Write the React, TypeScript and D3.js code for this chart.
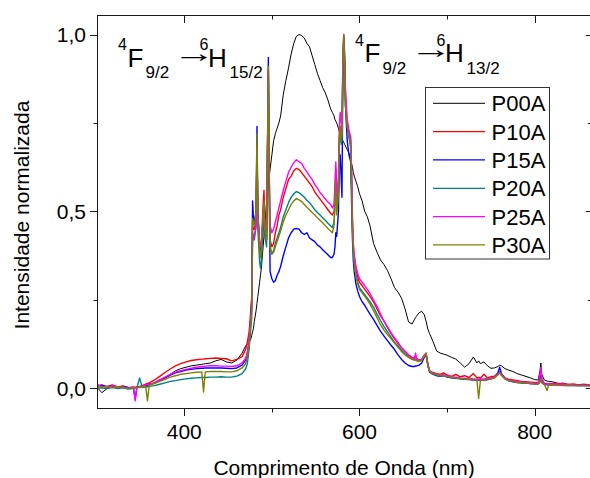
import React from "react";
import * as d3 from "d3";

// Emission spectra (normalized intensity) on a shared wavelength grid, nm
const wavelength = [
  300, 306, 312, 318, 324, 330, 336, 342, 344, 346, 349, 352, 356, 358, 360, 366, 372, 378, 384, 390, 396, 402, 408, 414, 420, 422, 424, 430, 436, 442, 448, 454, 460, 466,
  470, 472, 474, 476, 477, 478, 479, 480, 482, 483, 484, 486, 487, 488, 490, 491, 492, 494, 496, 497, 498,
  500, 502, 504, 506, 508, 510, 513, 516, 519, 522, 525, 528, 531, 534, 537, 540, 543, 546, 549, 552, 555, 558, 561, 564, 567,
  569, 571, 572, 573, 574, 576, 577, 578, 579, 580, 581, 582, 583, 584, 586, 588, 590, 591, 592, 593, 594, 596, 598,
  600, 603, 606, 609, 612, 616, 620, 624, 628, 632, 636, 640, 644, 648, 652, 656, 660, 663, 664, 665, 668, 671, 674, 676, 678, 680, 684, 688, 692, 696,
  700, 705, 710, 715, 720, 725, 730, 734, 736, 738, 742, 746, 750, 754, 758, 760, 762, 766, 770, 775, 780, 785, 790, 795, 800, 804, 806, 807, 808, 811, 814, 816, 820, 826, 832, 838, 844, 850, 856, 862, 866,
];

const p00a = [
  0.005, -0.012, 0, 0.004, 0.002, 0.006, 0.001, 0.003, 0.002, 0.004, 0.003, 0.005, 0.008, 0.009, 0.01, 0.015, 0.022, 0.03, 0.04, 0.05, 0.056, 0.06, 0.064, 0.066, 0.068, 0.069, 0.07, 0.072, 0.078, 0.082, 0.075, 0.072, 0.08, 0.1,
  0.12, 0.125, 0.13, 0.14, 0.15, 0.16, 0.17, 0.19, 0.22, 0.24, 0.26, 0.3, 0.32, 0.34, 0.4, 0.43, 0.46, 0.53, 0.58, 0.6, 0.62,
  0.66, 0.7, 0.72, 0.735, 0.75, 0.77, 0.83, 0.87, 0.905, 0.945, 0.975, 0.995, 1.0, 0.997, 0.99, 0.975, 0.965, 0.94, 0.915, 0.89, 0.87, 0.85, 0.835, 0.815, 0.79,
  0.78, 0.77, 0.76, 0.755, 0.75, 0.735, 0.725, 0.715, 0.71, 0.705, 0.7, 0.695, 0.69, 0.685, 0.675, 0.665, 0.645, 0.635, 0.625, 0.61, 0.6, 0.585, 0.57,
  0.55, 0.53, 0.5, 0.485, 0.46, 0.41, 0.385, 0.363, 0.35, 0.333, 0.31, 0.285, 0.272, 0.255, 0.225, 0.188, 0.182, 0.196, 0.2, 0.204, 0.214, 0.218, 0.208, 0.19, 0.168, 0.155, 0.132, 0.106, 0.1, 0.097,
  0.094, 0.088, 0.083, 0.072, 0.06, 0.07, 0.089, 0.072, 0.078, 0.07, 0.075, 0.064, 0.057, 0.058, 0.062, 0.066, 0.064, 0.056, 0.052, 0.048, 0.042, 0.038, 0.034, 0.03, 0.025, 0.024, 0.05, 0.072, 0.04, 0.024, 0.021, 0.02, 0.019, 0.015, 0.013, 0.012, 0.011, 0.01, 0.011, 0.009, 0.01,
];

const p10a = [
  0.01, 0.008, 0.006, 0.01, 0.004, 0.007, 0.002, 0.004, 0.003, 0.005, 0.006, 0.008, 0.012, 0.014, 0.016, 0.024, 0.034, 0.045, 0.055, 0.064, 0.07, 0.075, 0.079, 0.081, 0.083, 0.083, 0.084, 0.085, 0.086, 0.085, 0.084, 0.078, 0.082, 0.09,
  0.11, 0.13, 0.16, 0.22, 0.26, 0.46, 0.45, 0.45, 0.48, 0.68, 0.5, 0.4, 0.38, 0.4, 0.52, 0.56, 0.47, 0.43, 0.9, 0.6, 0.42,
  0.4, 0.41, 0.44, 0.46, 0.49, 0.505, 0.54, 0.565, 0.59, 0.6, 0.615, 0.622, 0.618, 0.61, 0.6, 0.59, 0.58, 0.57, 0.555, 0.545, 0.535, 0.525, 0.515, 0.505, 0.495,
  0.49, 0.5, 0.55, 0.62, 0.52, 0.56, 0.7, 0.74, 0.7, 0.72, 0.9, 0.99, 0.92, 0.82, 0.74, 0.72, 0.7, 0.6, 0.47, 0.4, 0.37, 0.335, 0.315,
  0.3, 0.29, 0.28, 0.27, 0.26, 0.245, 0.225, 0.205, 0.19, 0.172, 0.155, 0.14, 0.127, 0.115, 0.105, 0.095, 0.088, 0.086, 0.095, 0.085, 0.08, 0.082, 0.094, 0.1, 0.07, 0.05, 0.045, 0.042, 0.04, 0.044,
  0.038, 0.034, 0.04, 0.033, 0.036, 0.031, 0.042, 0.03, 0.031, 0.029, 0.04, 0.03, 0.033, 0.035, 0.042, 0.048, 0.04, 0.03, 0.026, 0.024, 0.022, 0.02, 0.019, 0.018, 0.017, 0.016, 0.03, 0.045, 0.025, 0.014, 0.013, 0.013, 0.014, 0.012, 0.015, 0.011, 0.013, 0.01, 0.012, 0.01, 0.011,
];

const p15a = [
  0.005, 0.01, 0.004, 0.008, 0.003, 0.006, 0.003, 0.002, -0.03, 0.004, 0.005, 0.006, 0.008, 0.01, 0.012, 0.016, 0.024, 0.03, 0.038, 0.044, 0.048, 0.052, 0.054, 0.056, 0.057, 0.057, 0.058, 0.058, 0.058, 0.058, 0.057, 0.056, 0.058, 0.066,
  0.08, 0.1, 0.13, 0.2, 0.25, 0.53, 0.48, 0.47, 0.5, 0.74, 0.5, 0.4, 0.38, 0.4, 0.45, 0.48, 0.44, 0.42, 0.935, 0.55, 0.33,
  0.31, 0.3, 0.305, 0.32, 0.33, 0.345, 0.375, 0.4, 0.425, 0.44, 0.45, 0.452, 0.45, 0.44, 0.435, 0.44, 0.425, 0.42, 0.415, 0.405, 0.4, 0.392, 0.385, 0.378, 0.37,
  0.37, 0.38, 0.4, 0.44, 0.43, 0.5, 0.64, 0.66, 0.6, 0.54, 0.88, 1.0, 0.95, 0.8, 0.7, 0.66, 0.64, 0.52, 0.42, 0.36, 0.33, 0.295, 0.275,
  0.26, 0.245, 0.235, 0.222, 0.21, 0.195, 0.178, 0.162, 0.148, 0.135, 0.122, 0.11, 0.095, 0.082, 0.072, 0.065, 0.062, 0.062, 0.064, 0.063, 0.066, 0.072, 0.088, 0.096, 0.065, 0.046, 0.04, 0.036, 0.034, 0.036,
  0.032, 0.03, 0.029, 0.027, 0.026, 0.025, 0.024, 0.024, 0.024, 0.023, 0.024, 0.025, 0.027, 0.03, 0.045, 0.06, 0.042, 0.028, 0.022, 0.019, 0.017, 0.016, 0.015, 0.014, 0.013, 0.013, 0.025, 0.035, 0.02, 0.012, 0.011, 0.011, 0.01, 0.01, 0.009, 0.009, 0.009, 0.008, 0.009, 0.008, 0.009,
];

const p20a = [
  0, 0.002, 0, 0.003, 0, 0.002, -0.002, 0, 0.001, 0.002, 0.03, 0.003, 0.004, 0.005, 0.006, 0.008, 0.012, 0.016, 0.02, 0.022, 0.025, 0.027, 0.029, 0.03, 0.031, 0.031, 0.031, 0.032, 0.032, 0.033, 0.032, 0.032, 0.035, 0.042,
  0.055, 0.07, 0.11, 0.17, 0.2, 0.44, 0.43, 0.42, 0.46, 0.69, 0.45, 0.36, 0.34, 0.36, 0.46, 0.5, 0.43, 0.4, 0.88, 0.57, 0.4,
  0.38, 0.39, 0.41, 0.425, 0.44, 0.455, 0.485, 0.505, 0.525, 0.54, 0.55, 0.556, 0.553, 0.547, 0.54, 0.532, 0.525, 0.515, 0.505, 0.497, 0.49, 0.482, 0.475, 0.467, 0.46,
  0.455, 0.47, 0.52, 0.6, 0.5, 0.55, 0.7, 0.73, 0.69, 0.7, 0.9, 0.99, 0.92, 0.8, 0.74, 0.71, 0.68, 0.58, 0.45, 0.39, 0.36, 0.32, 0.3,
  0.285, 0.275, 0.265, 0.255, 0.245, 0.23, 0.21, 0.192, 0.175, 0.16, 0.145, 0.13, 0.12, 0.108, 0.098, 0.09, 0.083, 0.08, 0.082, 0.079, 0.078, 0.08, 0.09, 0.097, 0.066, 0.047, 0.041, 0.038, 0.036, 0.037,
  0.034, 0.031, 0.03, 0.028, 0.027, 0.026, 0.025, 0.025, 0.024, 0.024, 0.024, 0.025, 0.027, 0.03, 0.04, 0.046, 0.038, 0.028, 0.022, 0.02, 0.018, 0.016, 0.015, 0.014, 0.013, 0.013, 0.02, 0.03, 0.018, 0.011, 0.01, 0.01, 0.01, 0.009, 0.009, 0.008, 0.009, 0.008, 0.008, 0.008, 0.008,
];

const p25a = [
  0.01, 0.006, 0.003, 0.008, 0.005, 0.004, 0.001, 0.004, -0.035, 0.005, 0.004, 0.006, 0.01, 0.011, 0.012, 0.016, 0.024, 0.032, 0.04, 0.046, 0.05, 0.054, 0.057, 0.06, 0.062, 0.062, 0.063, 0.064, 0.064, 0.063, 0.063, 0.062, 0.064, 0.072,
  0.085, 0.1, 0.14, 0.2, 0.23, 0.42, 0.42, 0.43, 0.46, 0.68, 0.48, 0.42, 0.4, 0.41, 0.48, 0.52, 0.46, 0.44, 0.9, 0.62, 0.46,
  0.44, 0.45, 0.47, 0.49, 0.51, 0.53, 0.56, 0.585, 0.61, 0.625, 0.638, 0.646, 0.64, 0.636, 0.622, 0.612, 0.6, 0.59, 0.576, 0.566, 0.553, 0.545, 0.535, 0.527, 0.52,
  0.51, 0.52, 0.58, 0.64, 0.54, 0.6, 0.74, 0.78, 0.76, 0.72, 0.92, 0.99, 0.9, 0.85, 0.76, 0.73, 0.71, 0.62, 0.48, 0.41, 0.38, 0.345, 0.325,
  0.31, 0.3, 0.29, 0.28, 0.268, 0.25, 0.232, 0.21, 0.19, 0.174, 0.158, 0.143, 0.13, 0.115, 0.104, 0.094, 0.086, 0.084, 0.1, 0.083, 0.08, 0.082, 0.094, 0.099, 0.068, 0.049, 0.043, 0.04, 0.038, 0.039,
  0.036, 0.033, 0.032, 0.03, 0.029, 0.028, 0.027, 0.026, 0.027, 0.026, 0.027, 0.028, 0.029, 0.032, 0.04, 0.046, 0.039, 0.029, 0.024, 0.021, 0.019, 0.018, 0.017, 0.016, 0.015, 0.015, 0.04, 0.06, 0.03, 0.013, 0.012, 0.012, 0.012, 0.011, 0.012, 0.01, 0.011, 0.009, 0.01, 0.009, 0.01,
];

const p30a = [
  0.005, 0.004, 0.006, 0.002, 0.004, 0.003, 0, 0.002, 0.001, 0.003, 0.004, 0.005, 0.006, -0.035, 0.009, 0.014, 0.02, 0.026, 0.032, 0.036, 0.04, 0.042, 0.044, 0.046, 0.047, -0.01, 0.047, 0.048, 0.048, 0.048, 0.047, 0.047, 0.05, 0.058,
  0.07, 0.085, 0.12, 0.19, 0.22, 0.48, 0.47, 0.46, 0.5, 0.72, 0.48, 0.39, 0.37, 0.39, 0.49, 0.53, 0.45, 0.42, 0.91, 0.6, 0.4,
  0.38, 0.385, 0.4, 0.415, 0.43, 0.445, 0.47, 0.49, 0.505, 0.52, 0.53, 0.537, 0.533, 0.528, 0.52, 0.512, 0.505, 0.497, 0.49, 0.482, 0.475, 0.468, 0.46, 0.452, 0.445,
  0.44, 0.46, 0.52, 0.59, 0.49, 0.55, 0.71, 0.74, 0.7, 0.72, 0.92, 1.0, 0.93, 0.8, 0.74, 0.71, 0.69, 0.58, 0.45, 0.39, 0.355, 0.315, 0.295,
  0.28, 0.27, 0.26, 0.25, 0.238, 0.22, 0.2, 0.18, 0.165, 0.152, 0.14, 0.128, 0.116, 0.104, 0.095, 0.088, 0.082, 0.08, 0.083, 0.079, 0.077, 0.079, 0.092, 0.098, 0.068, 0.048, 0.042, 0.039, 0.036, 0.037,
  0.034, 0.031, 0.03, 0.028, 0.027, 0.026, 0.025, 0.024, -0.028, 0.023, 0.024, 0.025, 0.027, 0.03, 0.038, 0.044, 0.037, 0.027, 0.022, 0.02, 0.017, 0.016, 0.015, 0.014, 0.013, 0.012, 0.018, 0.028, 0.016, 0.011, -0.006, 0.01, 0.009, 0.009, 0.008, 0.009, 0.008, 0.008, 0.008, 0.007, 0.008,
];

const seriesNames = ["P00A", "P10A", "P15A", "P20A", "P25A", "P30A"];
const seriesColors = ["#000000", "#ff0000", "#0000ff", "#008080", "#ff00ff", "#808000"];
const seriesValues = [p00a, p10a, p15a, p20a, p25a, p30a];

const xMajorTicks = [400, 600, 800];
const xMinorTicks = [500, 700];
const yMajorTicks = [0, 0.5, 1];
const yMinorTicks = [0.25, 0.75];
const yTickLabels = ["0,0", "0,5", "1,0"];

// Transition labels: 4F9/2 -> 6H15/2 and 4F9/2 -> 6H13/2
const transitionUpper = ["15/2", "13/2"];

const FONT = "'Liberation Sans', Arial, Helvetica, sans-serif";

function Transition({ x0, base, upper }: { x0: number; base: number; upper: string }) {
  // x0: left of the leading superscript, base: baseline of the large letters
  return (
    <g fill="#000">
      <text>
        <tspan x={x0} y={base - 16.7} fontSize={16}>4</tspan>
        <tspan x={x0 + 9.5} y={base} fontSize={26}>F</tspan>
        <tspan x={x0 + 27.5} y={base + 11.6} fontSize={17}>9/2</tspan>
      </text>
      {/* long thin arrow: the glyph stretched horizontally */}
      <text transform={`translate(${x0 + 55}, ${base - 4.7}) scale(1.65, 1)`} fontSize={26}>
        →
      </text>
      <text>
        <tspan x={x0 + 81.5} y={base - 16.7} fontSize={16}>6</tspan>
        <tspan x={x0 + 90} y={base} fontSize={26}>H</tspan>
        <tspan x={x0 + 111.5} y={base + 11.6} fontSize={17}>{upper}</tspan>
      </text>
    </g>
  );
}

export default function App() {
  const W = 590;
  const H = 478;
  const left = 97.5;
  const right = 590.8;
  const top = 15.5;
  const bottom = 408.5;

  const x = d3.scaleLinear().domain([301, 864]).range([left, right]);
  const y = d3.scaleLinear().domain([-0.0566, 1.0537]).range([bottom, top]);

  const line = d3
    .line<number>()
    .x((_, i) => x(wavelength[i]))
    .y((d) => y(d));

  const major = 7.5;
  const minor = 4;
  const axisColor = "#1a1a1a";

  const legendX = 425.5;
  const legendY = 87.5;
  const legendW = 124;
  const legendH = 171.5;
  const rowStep = 28.33;

  return (
    <svg
      width={W}
      height={H}
      style={{ position: "absolute", left: 0, top: 0, background: "#fff" }}
      fontFamily={FONT}
    >
      <defs>
        <clipPath id="plot-clip">
          <rect x={left} y={top} width={right - left} height={bottom - top} />
        </clipPath>
      </defs>

      <g clipPath="url(#plot-clip)">
        {seriesValues.map((vals, k) => (
          <path
            key={seriesNames[k]}
            d={line(vals) || ""}
            fill="none"
            stroke={seriesColors[k]}
            strokeWidth={k === 0 ? 1 : 1.4}
            strokeLinejoin="round"
          />
        ))}
      </g>

      {/* frame */}
      <rect x={left} y={top} width={right - left} height={bottom - top} fill="none" stroke={axisColor} strokeWidth={1} />

      {/* x ticks: bottom outward, top inward */}
      {xMajorTicks.map((t) => (
        <g key={"xM" + t}>
          <line x1={Math.round(x(t)) + 0.5} x2={Math.round(x(t)) + 0.5} y1={bottom} y2={bottom + major} stroke={axisColor} />
          <line x1={Math.round(x(t)) + 0.5} x2={Math.round(x(t)) + 0.5} y1={top} y2={top + major} stroke={axisColor} />
          <text x={x(t)} y={439} textAnchor="middle" fontSize={21} fill="#000">
            {t}
          </text>
        </g>
      ))}
      {xMinorTicks.map((t) => (
        <g key={"xm" + t}>
          <line x1={Math.round(x(t)) + 0.5} x2={Math.round(x(t)) + 0.5} y1={bottom} y2={bottom + minor} stroke={axisColor} />
          <line x1={Math.round(x(t)) + 0.5} x2={Math.round(x(t)) + 0.5} y1={top} y2={top + minor} stroke={axisColor} />
        </g>
      ))}

      {/* y ticks: left outward, right inward */}
      {yMajorTicks.map((t, i) => (
        <g key={"yM" + t}>
          <line x1={left - major} x2={left} y1={Math.round(y(t)) + 0.5} y2={Math.round(y(t)) + 0.5} stroke={axisColor} />
          <line x1={right - 5} x2={right} y1={Math.round(y(t)) + 0.5} y2={Math.round(y(t)) + 0.5} stroke={axisColor} />
          <text x={86} y={y(t) + 7.5} textAnchor="end" fontSize={21} fill="#000">
            {yTickLabels[i]}
          </text>
        </g>
      ))}
      {yMinorTicks.map((t) => (
        <g key={"ym" + t}>
          <line x1={left - minor} x2={left} y1={Math.round(y(t)) + 0.5} y2={Math.round(y(t)) + 0.5} stroke={axisColor} />
          <line x1={right - 3} x2={right} y1={Math.round(y(t)) + 0.5} y2={Math.round(y(t)) + 0.5} stroke={axisColor} />
        </g>
      ))}

      {/* axis titles */}
      <text x={(left + right) / 2} y={475} textAnchor="middle" fontSize={21} fill="#000">
        Comprimento de Onda (nm)
      </text>
      <text transform={`translate(28.5, 215) rotate(-90)`} textAnchor="middle" fontSize={21} fill="#000">
        Intensidade normalizada
      </text>

      {/* transition labels */}
      <Transition x0={118} base={66.7} upper={transitionUpper[0]} />
      <Transition x0={355} base={62.3} upper={transitionUpper[1]} />

      {/* legend */}
      <rect x={legendX} y={legendY} width={legendW} height={legendH} fill="#fff" stroke="#333" strokeWidth={1} />
      {seriesNames.map((name, k) => {
        const cy = 103.3 + k * rowStep;
        return (
          <g key={"lg" + name}>
            <line x1={433} x2={485} y1={cy} y2={cy} stroke={seriesColors[k]} strokeWidth={k === 0 ? 1 : 1.2} />
            <text x={491.5} y={cy + 8} fontSize={22} fill="#000">
              {name}
            </text>
          </g>
        );
      })}
    </svg>
  );
}
